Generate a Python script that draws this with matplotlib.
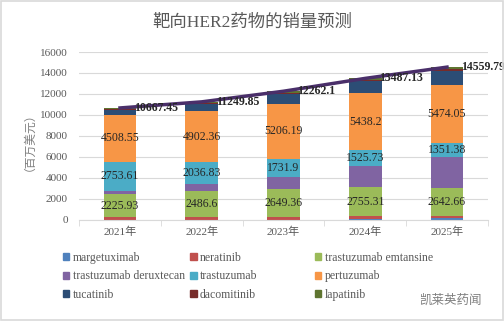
import numpy as np
import matplotlib
matplotlib.use("Agg")
import matplotlib.pyplot as plt
from matplotlib.patches import Rectangle, Patch

plt.rcParams['font.family'] = ['Liberation Serif', 'Noto Sans CJK SC', 'DejaVu Sans']

years = ['2021年', '2022年', '2023年', '2024年', '2025年']
names = ['margetuximab', 'neratinib', 'trastuzumab emtansine',
         'trastuzumab deruxtecan', 'trastuzumab', 'pertuzumab',
         'tucatinib', 'dacomitinib', 'lapatinib']
colors = ['#4F81BD', '#C0504D', '#9BBB59', '#8064A2', '#4BACC6',
          '#F79646', '#2C4D75', '#772C2A', '#5F7530']

margetuximab = [0, 0, 0, 50, 180]
neratinib = [250, 300, 300, 300, 230]
t_dm1 = [2225.93, 2486.6, 2649.36, 2755.31, 2642.66]
t_dxd = [290, 650, 1150, 2000, 2950]
trastuzumab = [2753.61, 2036.83, 1731.9, 1525.73, 1351.38]
pertuzumab = [4508.55, 4902.36, 5206.19, 5438.2, 5474.05]
tucatinib = [450, 650, 950, 1200, 1400]
dacomitinib = [80, 80, 100, 100, 150]
lapatinib = [109.36, 144.06, 174.65, 117.89, 181.7]
totals = [10667.45, 11249.85, 12262.1, 13487.13, 14559.79]

series = [margetuximab, neratinib, t_dm1, t_dxd, trastuzumab,
          pertuzumab, tucatinib, dacomitinib, lapatinib]
labelled = {2, 4, 5}

fig = plt.figure(figsize=(5.04, 3.21), dpi=100)
ax = fig.add_axes([0.157, 0.315, 0.811, 0.523])

x = np.arange(len(years))
bottom = np.zeros(len(years))
for i, vals in enumerate(series):
    ax.bar(x, vals, 0.4, bottom=bottom, color=colors[i], zorder=2)
    if i in labelled:
        for xi, b, v in zip(x, bottom, vals):
            ax.text(xi, b + v / 2, str(v), ha='center', va='center',
                    fontsize=8.5, color='#262626', zorder=4)
    bottom += np.array(vals, dtype=float)

ax.plot(x, totals, color='#4A2F6A', lw=2.5, zorder=3)
for xi, t in zip(x, totals):
    ax.text(xi + 0.17, t, str(t), ha='left', va='center', fontsize=8.5,
            fontweight='bold', color='#262626', zorder=5)

ax.set_xlim(-0.5, 4.5)
ax.set_ylim(0, 16000)
ax.set_yticks(np.arange(0, 16001, 2000))
ax.set_xticks(x)
ax.set_xticklabels(years)
ax.set_xticks(np.arange(-0.5, 5, 1), minor=True)
ax.tick_params(axis='x', which='major', length=0, pad=5)
ax.tick_params(axis='x', which='minor', length=4, color='#D9D9D9')
ax.tick_params(axis='y', length=0, pad=8)
ax.tick_params(labelsize=8, labelcolor='#595959')
ax.grid(axis='y', color='#D9D9D9', lw=0.8, zorder=0)
for s in ['top', 'right', 'left']:
    ax.spines[s].set_visible(False)
ax.spines['bottom'].set_color('#D9D9D9')
ax.set_ylabel('（百万美元）', fontsize=8.5, color='#7F7F7F', labelpad=8,
              family=['Noto Sans CJK SC'])

fig.text(0.5, 0.93, '靶向HER2药物的销量预测', ha='center', va='center',
         fontsize=12.5, color='#595959')

# legend in three columns, rows read left to right
col_x = [0.125, 0.377, 0.625]
for c in range(3):
    idx = [c, c + 3, c + 6]
    handles = [Patch(color=colors[k]) for k in idx]
    fig.legend(handles, [names[k] for k in idx], loc='upper left',
               bbox_to_anchor=(col_x[c], 0.215), frameon=False,
               fontsize=8.5, labelcolor='#595959', handlelength=0.55,
               handleheight=0.55, handletextpad=0.3, labelspacing=0.55,
               borderaxespad=0, borderpad=0)

fig.text(0.955, 0.065, '凯莱英药闻', ha='right', va='center', fontsize=9,
         color='#7F7F7F', family=['Noto Sans CJK SC'])

fig.patches.append(Rectangle((0.002, 0.003), 0.996, 0.994, transform=fig.transFigure,
                             fill=False, edgecolor='#D9D9D9', lw=1.2))

fig.savefig('out.png', dpi=100)
